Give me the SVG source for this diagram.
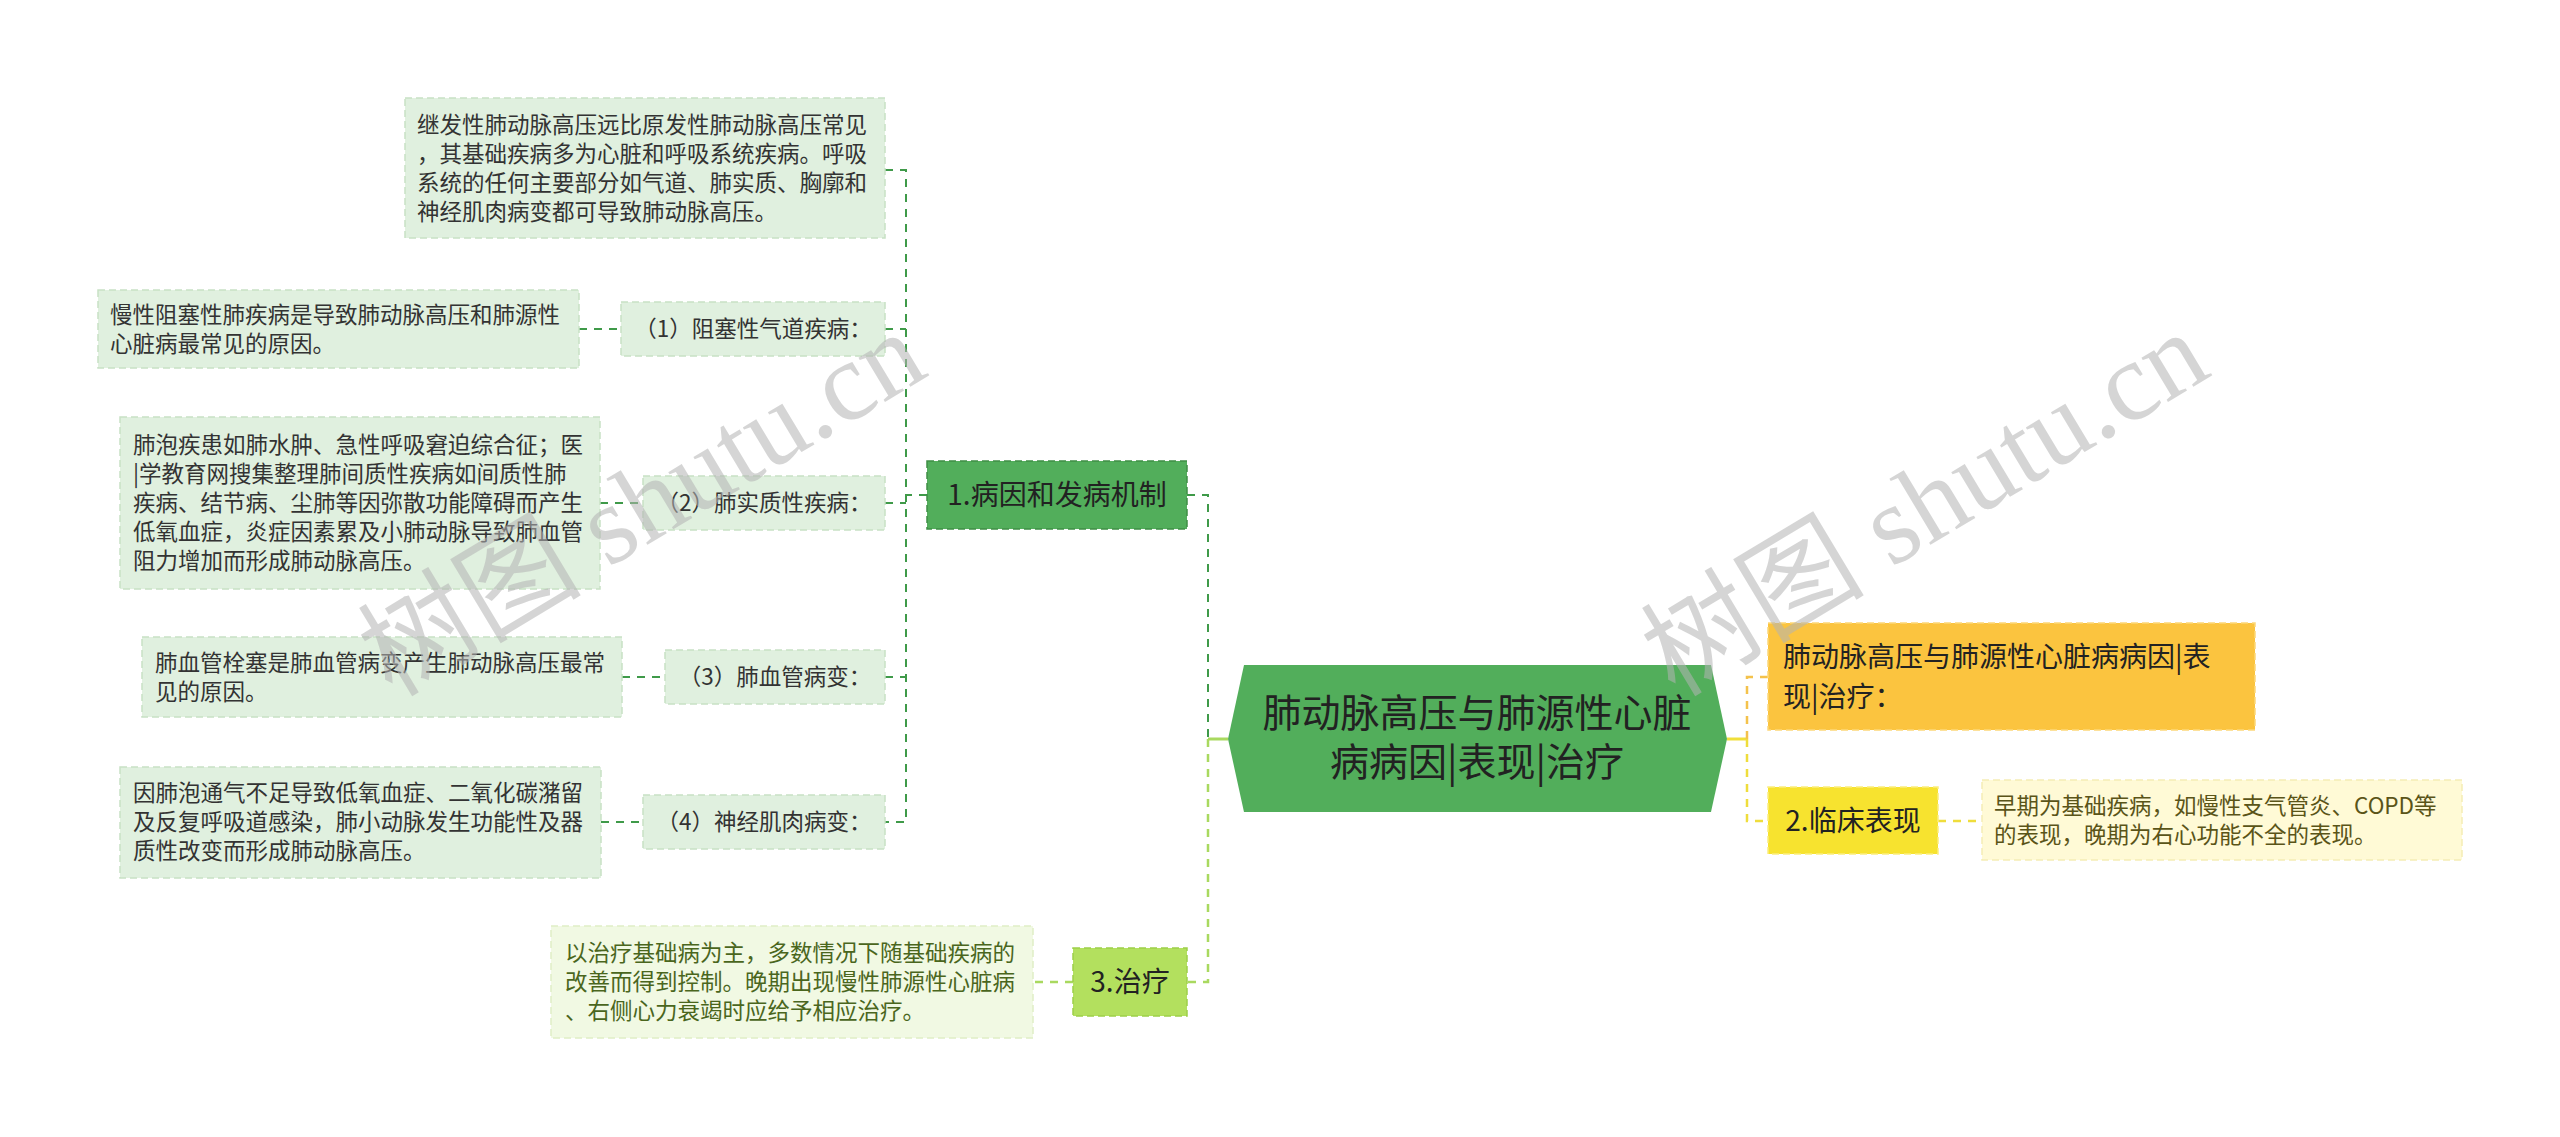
<svg xmlns="http://www.w3.org/2000/svg" width="2560" height="1137" viewBox="0 0 2560 1137">
<style>
.t{font-family:"Noto Sans CJK SC","Noto Sans",sans-serif}
.s{font-size:22.5px;fill:#333}
.m{font-size:28px;fill:#222}
.leaf{fill:#e0f0df;stroke:#c8e1c5;stroke-width:1.5;stroke-dasharray:7 4}
.dg{fill:none;stroke:#3f9a49;stroke-width:2;stroke-dasharray:8 7}
.lg{fill:none;stroke:#a9d95f;stroke-width:2.5;stroke-dasharray:8 7}
.or{fill:none;stroke:#f4c24c;stroke-width:2.5;stroke-dasharray:8 7}
.ye{fill:none;stroke:#efdd3c;stroke-width:2.5;stroke-dasharray:8 7}
.wm{font-family:"Liberation Serif","Noto Sans CJK SC",serif;font-size:112px;fill:#b4b4b4;opacity:0.55}
</style>
<rect width="2560" height="1137" fill="#ffffff"/>

<g id="connectors">
  <!-- left main -->
  <path class="dg" d="M927,495 H906 M885,170 H906 V822 H885 M885,329 H906 M885,503 H906 M885,677 H906"/>
  <path class="dg" d="M579,329 H621 M600,503 H643 M622,677 H665 M601,822 H643"/>
  <path class="dg" d="M1187,495 H1208 V739"/>
  <path class="lg" d="M1208,739 V982 H1187"/>
  <path class="lg" d="M1073,982 H1033"/>
  <path d="M1228,739 H1208" stroke="#a9d95f" stroke-width="3" fill="none"/>
  <!-- right -->
  <path d="M1727,739 H1747" stroke="#f0df3a" stroke-width="3" fill="none"/>
  <path class="or" d="M1747,739 V677 H1768"/>
  <path class="ye" d="M1747,739 V821 H1768"/>
  <path class="ye" d="M1938,821 H1982"/>
</g>

<g id="center">
  <polygon points="1228,739 1244,665 1711,665 1727,739 1711,812 1244,812" fill="#52ae5b"/>
  <text class="t" x="1477" y="727" font-size="39" fill="#222" text-anchor="middle">肺动脉高压与肺源性心脏</text>
  <text class="t" x="1477" y="776" font-size="39" fill="#222" text-anchor="middle">病病因|表现|治疗</text>
</g>

<g id="n1">
  <rect x="927" y="461" width="260" height="68" fill="#52ae5b" stroke="#3f8f46" stroke-width="1.5" stroke-dasharray="7 4"/>
  <text class="t m" x="1057" y="505" text-anchor="middle">1.病因和发病机制</text>
</g>

<g id="leaf0">
  <rect class="leaf" x="405" y="98" width="480" height="140"/>
  <text class="t s" x="417" y="133">继发性肺动脉高压远比原发性肺动脉高压常见</text>
  <text class="t s" x="417" y="162">，其基础疾病多为心脏和呼吸系统疾病。呼吸</text>
  <text class="t s" x="417" y="191">系统的任何主要部分如气道、肺实质、胸廓和</text>
  <text class="t s" x="417" y="220">神经肌肉病变都可导致肺动脉高压。</text>
</g>

<g id="c1">
  <rect class="leaf" x="621" y="302" width="264" height="54"/>
  <text class="t s" x="753" y="337" text-anchor="middle">（1）阻塞性气道疾病：</text>
</g>
<g id="leaf1">
  <rect class="leaf" x="98" y="290" width="481" height="78"/>
  <text class="t s" x="110" y="323">慢性阻塞性肺疾病是导致肺动脉高压和肺源性</text>
  <text class="t s" x="110" y="352">心脏病最常见的原因。</text>
</g>

<g id="c2">
  <rect class="leaf" x="643" y="476" width="242" height="54"/>
  <text class="t s" x="764" y="511" text-anchor="middle">（2）肺实质性疾病：</text>
</g>
<g id="leaf2">
  <rect class="leaf" x="120" y="417" width="480" height="172"/>
  <text class="t s" x="133" y="453">肺泡疾患如肺水肿、急性呼吸窘迫综合征；医</text>
  <text class="t s" x="133" y="482">|学教育网搜集整理肺间质性疾病如间质性肺</text>
  <text class="t s" x="133" y="511">疾病、结节病、尘肺等因弥散功能障碍而产生</text>
  <text class="t s" x="133" y="540">低氧血症，炎症因素累及小肺动脉导致肺血管</text>
  <text class="t s" x="133" y="569">阻力增加而形成肺动脉高压。</text>
</g>

<g id="c3">
  <rect class="leaf" x="665" y="650" width="220" height="54"/>
  <text class="t s" x="775" y="685" text-anchor="middle">（3）肺血管病变：</text>
</g>
<g id="leaf3">
  <rect class="leaf" x="142" y="637" width="480" height="80"/>
  <text class="t s" x="155" y="671">肺血管栓塞是肺血管病变产生肺动脉高压最常</text>
  <text class="t s" x="155" y="700">见的原因。</text>
</g>

<g id="c4">
  <rect class="leaf" x="643" y="795" width="242" height="54"/>
  <text class="t s" x="764" y="830" text-anchor="middle">（4）神经肌肉病变：</text>
</g>
<g id="leaf4">
  <rect class="leaf" x="120" y="767" width="481" height="111"/>
  <text class="t s" x="133" y="801">因肺泡通气不足导致低氧血症、二氧化碳潴留</text>
  <text class="t s" x="133" y="830">及反复呼吸道感染，肺小动脉发生功能性及器</text>
  <text class="t s" x="133" y="859">质性改变而形成肺动脉高压。</text>
</g>

<g id="n3">
  <rect x="1073" y="948" width="114" height="68" fill="#b3e05e" stroke="#9dcf48" stroke-width="1.5" stroke-dasharray="7 4"/>
  <text class="t m" x="1130" y="992" text-anchor="middle">3.治疗</text>
</g>
<g id="leaf5">
  <rect x="551" y="926" width="482" height="112" fill="#f1f9e3" stroke="#e0eec6" stroke-width="1.5" stroke-dasharray="7 4"/>
  <text class="t" x="565" y="961" font-size="22.5" fill="#4a661d">以治疗基础病为主，多数情况下随基础疾病的</text>
  <text class="t" x="565" y="990" font-size="22.5" fill="#4a661d">改善而得到控制。晚期出现慢性肺源性心脏病</text>
  <text class="t" x="565" y="1019" font-size="22.5" fill="#4a661d">、右侧心力衰竭时应给予相应治疗。</text>
</g>

<g id="n0">
  <rect x="1768" y="623" width="487" height="107" fill="#fbc43f" stroke="#fdd77a" stroke-width="1.5" stroke-dasharray="7 4"/>
  <text class="t m" x="1783" y="667">肺动脉高压与肺源性心脏病病因|表</text>
  <text class="t m" x="1783" y="707">现|治疗：</text>
</g>

<g id="n2">
  <rect x="1768" y="787" width="170" height="67" fill="#f7e32f" stroke="#fbee7e" stroke-width="1.5" stroke-dasharray="7 4"/>
  <text class="t m" x="1853" y="831" text-anchor="middle">2.临床表现</text>
</g>
<g id="leaf6">
  <rect x="1982" y="780" width="480" height="80" fill="#fffad6" stroke="#f5edb5" stroke-width="1.5" stroke-dasharray="7 4"/>
  <text class="t" x="1994" y="814" font-size="22.5" fill="#5a5418">早期为基础疾病，如慢性支气管炎、COPD等</text>
  <text class="t" x="1994" y="843" font-size="22.5" fill="#5a5418">的表现，晚期为右心功能不全的表现。</text>
</g>

<text class="wm" x="648" y="540" text-anchor="middle" transform="rotate(-31 648 514)">树图 shutu.cn</text>
<text class="wm" x="1931" y="540" text-anchor="middle" transform="rotate(-31 1931 514)">树图 shutu.cn</text>
</svg>
